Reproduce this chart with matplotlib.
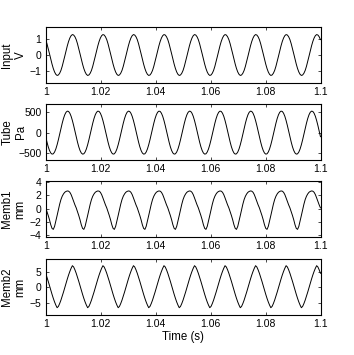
import numpy as np
import matplotlib.pyplot as plt

plt.rcParams['font.family'] = ['Liberation Sans', 'DejaVu Sans']

# one period of each signal, 24 samples, starting at t = 1 s
period = 0.0111
input_cycle = [0.98, 0.72, 0.41, 0.08, -0.26, -0.58, -0.86, -1.08, -1.23, -1.30, -1.27, -1.16,
               -0.98, -0.72, -0.41, -0.08, 0.26, 0.58, 0.86, 1.08, 1.23, 1.30, 1.27, 1.16]
tube_cycle = [-97, -226, -340, -430, -491, -518, -511, -468, -394, -292, -171, -38,
              97, 226, 340, 430, 491, 518, 511, 468, 394, 292, 171, 38]
memb1_cycle = [0.1, -0.45, -1.05, -1.7, -2.45, -3.0, -3.15, -2.7, -1.9, -1.05, -0.2, 0.65,
               1.35, 1.85, 2.2, 2.45, 2.58, 2.65, 2.62, 2.45, 2.1, 1.6, 1.05, 0.55]
memb2_cycle = [4.57, 3.32, 1.96, 0.54, -0.89, -2.28, -3.59, -4.77, -5.79, -6.63, -6.21, -5.28,
               -4.17, -2.92, -1.56, -0.14, 1.29, 2.68, 3.99, 5.16, 6.19, 7.03, 6.61, 5.68]

names = ['Input\nV', 'Tube\nPa', 'Memb1\nmm', 'Memb2\nmm']
cycles = [input_cycle, tube_cycle, memb1_cycle, memb2_cycle]
ylims = [(-1.78, 1.78), (-660, 690), (-4.3, 4.15), (-9, 9.2)]
yticks = [[-1, 0, 1], [-500, 0, 500], [-4, -2, 0, 2, 4], [-5, 0, 5]]
xticks = [1, 1.02, 1.04, 1.06, 1.08, 1.1]
xticklabels = ['1', '1.02', '1.04', '1.06', '1.08', '1.1']

n = int(0.1 / (period / 24)) + 1
t = 1 + np.arange(n) * period / 24

fig = plt.figure(figsize=(3.54, 3.55), dpi=100)
bottoms = [0.7662, 0.5493, 0.3324, 0.1127]

for i in range(4):
    ax = fig.add_axes([0.129, bottoms[i], 0.777, 0.1577])
    y = np.tile(cycles[i], 10)[:n]
    ax.plot(t, y, color='black', lw=0.7)
    ax.set_xlim(1, 1.1)
    ax.set_ylim(*ylims[i])
    ax.set_xticks(xticks)
    ax.set_xticklabels(xticklabels)
    ax.set_yticks(yticks[i])
    ax.tick_params(direction='in', top=True, right=True, length=2.5, width=0.5,
                   labelsize=7.5, pad=3)
    for s in ax.spines.values():
        s.set_linewidth(0.8)
    ax.set_ylabel(names[i], fontsize=8.3, linespacing=1.15, va='center')
    ax.yaxis.set_label_coords(-0.115, 0.5)

ax.set_xlabel('Time (s)', fontsize=8.3, labelpad=1)

fig.savefig('out.png', dpi=100)
